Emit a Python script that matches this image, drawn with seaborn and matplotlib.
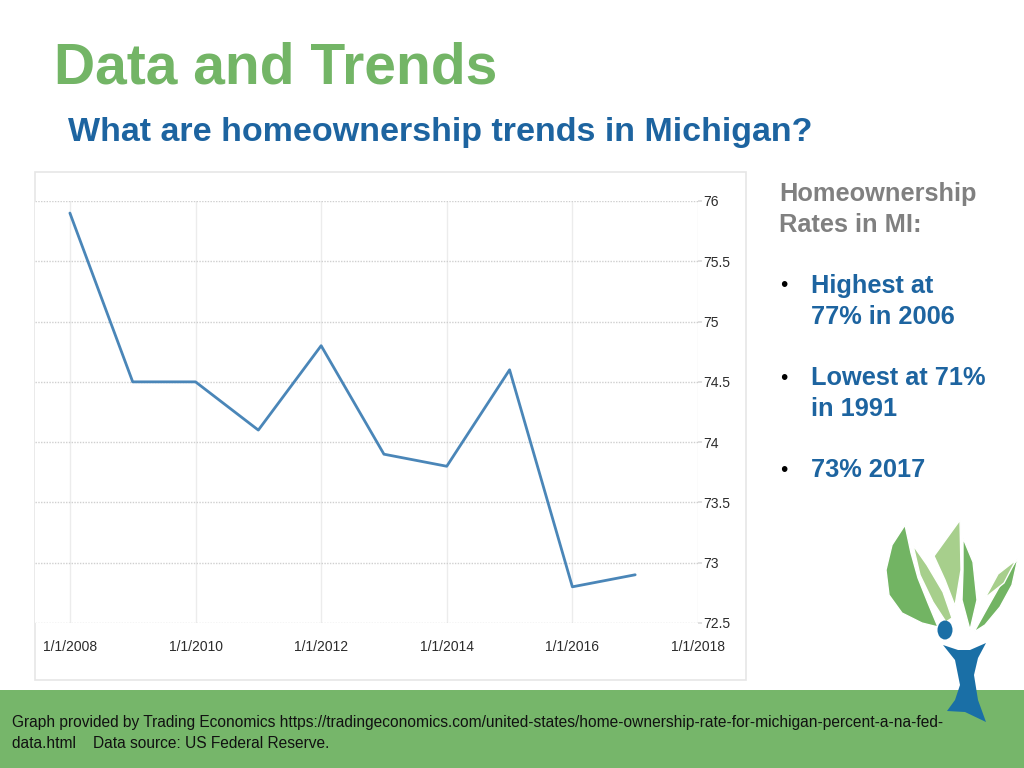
import matplotlib
matplotlib.use("Agg")
import matplotlib.pyplot as plt
import seaborn as sns
import pandas as pd
from matplotlib.patches import Rectangle, Polygon, Ellipse

# Données
years = [2008, 2009, 2010, 2011, 2012, 2013, 2014, 2015, 2016, 2017]
rates = [75.9, 74.5, 74.5, 74.1, 74.8, 73.9, 73.8, 74.6, 72.8, 72.9]
x_ticks = [2008, 2010, 2012, 2014, 2016, 2018]
x_labels = ["1/1/2008", "1/1/2010", "1/1/2012", "1/1/2014", "1/1/2016", "1/1/2018"]
y_ticks = [72.5, 73, 73.5, 74, 74.5, 75, 75.5, 76]
y_labels = ["72.5", "73", "73.5", "74", "74.5", "75", "75.5", "76"]

title = "Data and Trends"
subtitle = "What are homeownership trends in Michigan?"
side_head = ["Homeownership", "Rates in MI:"]
bullets = [["Highest at", "77% in 2006"], ["Lowest at 71%", "in 1991"], ["73% 2017"]]
footer = ["Graph provided by Trading Economics https://tradingeconomics.com/united-states/"
          "home-ownership-rate-for-michigan-percent-a-na-fed-",
          "data.html    Data source: US Federal Reserve."]

df = pd.DataFrame({"year": years, "rate": rates})

sns.set_theme(style="white")
plt.rcParams["font.family"] = ["Liberation Sans", "DejaVu Sans"]

W, H = 1024, 768
fig = plt.figure(figsize=(W / 100, H / 100), dpi=100)

# fond : cadre du graphique, bandeau vert, logo (coordonnées en pixels)
bg = fig.add_axes([0, 0, 1, 1], zorder=0)
bg.set_xlim(0, W)
bg.set_ylim(H, 0)
bg.axis("off")
bg.add_patch(Rectangle((35, 172), 711, 508, facecolor="white", edgecolor="#e6e6e6", lw=1.2))
bg.add_patch(Rectangle((0, 690), W, 78, facecolor="#76b66a", edgecolor="none"))
for i, line in enumerate(footer):
    bg.text(12, 722 + 21 * i, line, fontsize=11.2, color="#111111", va="center", zorder=2)

# logo (arbre stylisé)
dark, light, blue = "#72b463", "#a7cf8c", "#1a6fa6"
leaves = [
    ([(905, 525), (892, 545), (886, 570), (889, 595), (902, 613), (922, 623), (938, 627),
      (928, 603), (918, 578), (911, 553)], dark),
    ([(913, 545), (927, 565), (943, 592), (952, 618), (946, 622), (933, 602), (920, 575)], light),
    ([(960, 520), (934, 556), (945, 580), (955, 606), (961, 570)], light),
    ([(963, 538), (973, 562), (977, 600), (970, 630), (962, 600), (963, 570)], dark),
    ([(1018, 558), (1012, 585), (1000, 607), (985, 625), (974, 632), (989, 605), (1002, 582)], dark),
    ([(1016, 560), (998, 574), (985, 598), (1004, 583)], light),
]
for pts, col in leaves:
    bg.add_patch(Polygon(pts, facecolor=col, edgecolor="white", lw=1.0, zorder=3))
bg.add_patch(Ellipse((945, 630), 15, 19, facecolor=blue, edgecolor="none", zorder=4))
bg.add_patch(Polygon([(943, 645), (955, 660), (960, 685), (955, 700), (947, 711),
                      (965, 712), (986, 722), (978, 700), (974, 675), (978, 658),
                      (986, 643), (970, 650), (958, 650)],
                     facecolor=blue, edgecolor="none", zorder=4))

# graphique principal
ax = fig.add_axes([35 / W, 1 - 623 / H, (698 - 35) / W, (623 - 201) / H], zorder=1)
sns.lineplot(data=df, x="year", y="rate", ax=ax, color="#4a86b8", linewidth=2.0)
ax.set_xlim(2008 - 35 / 63, 2018)
ax.set_ylim(72.5, 76)
ax.set_xticks(x_ticks)
ax.set_xticklabels(x_labels)
ax.set_yticks(y_ticks)
ax.set_yticklabels(y_labels)
ax.yaxis.tick_right()
ax.tick_params(axis="both", labelsize=10, labelcolor="#2b2b2b", length=3, color="#dddddd")
ax.tick_params(axis="x", pad=9)
ax.tick_params(axis="y", pad=1)
ax.set_xlabel("")
ax.set_ylabel("")
for lab in ax.get_yticklabels():
    lab.set_horizontalalignment("left")
ax.grid(axis="y", color="#cfcfcf", linestyle=(0, (1, 1)), linewidth=1)
ax.grid(axis="x", color="#ececec", linestyle="-", linewidth=1)
for s in ax.spines.values():
    s.set_visible(False)

# titres et texte latéral
fig.text(54 / W, 1 - 68 / H, title, fontsize=41, fontweight="bold", color="#73b566", va="center")
fig.text(68 / W, 1 - 133 / H, subtitle, fontsize=24.5, fontweight="bold", color="#1d64a0", va="center")
for i, line in enumerate(side_head):
    fig.text(779 / W, 1 - (194 + 31 * i) / H, line, fontsize=18.3, fontweight="bold",
             color="#808080", va="center")
for y, lines in zip([286, 378, 470], bullets):
    fig.text(780 / W, 1 - y / H, "\u2022", fontsize=15, color="black", va="center")
    for i, line in enumerate(lines):
        fig.text(811 / W, 1 - (y + 31 * i) / H, line, fontsize=18.3, fontweight="bold",
                 color="#1d64a0", va="center")

fig.savefig("out.png", dpi=100)
